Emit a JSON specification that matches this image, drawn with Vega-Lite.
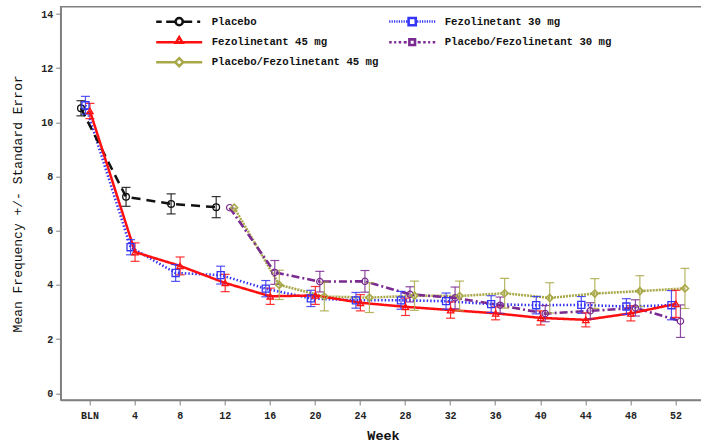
{
  "$schema": "https://vega.github.io/schema/vega-lite/v6.json",
  "width": 644.6,
  "height": 393.3,
  "autosize": {"type": "none"},
  "padding": {"left": 60.7, "top": 6.7, "right": 0, "bottom": 47},
  "background": "white",
  "config": {
    "font": "Liberation Mono",
    "view": {"stroke": "#808080", "strokeWidth": 1.5},
    "axis": {"domainColor": "#808080", "domainWidth": 1.5, "tickColor": "#808080", "tickSize": 5, "grid": false, "labelFont": "Liberation Mono", "labelFontWeight": "bold", "labelFontSize": 10, "labelColor": "#222", "titleFont": "Liberation Mono", "titleColor": "#111"}
  },
  "resolve": {"legend": {"color": "independent", "shape": "independent", "strokeWidth": "independent", "strokeDash": "independent"}},
  "data": {
    "values": [
      {"g": "Fezolinetant 30 mg", "w": "BLN", "m": 10.63, "se": 0.33},
      {"g": "Fezolinetant 30 mg", "w": "4", "m": 5.39, "se": 0.28},
      {"g": "Fezolinetant 30 mg", "w": "8", "m": 4.44, "se": 0.31},
      {"g": "Fezolinetant 30 mg", "w": "12", "m": 4.36, "se": 0.33},
      {"g": "Fezolinetant 30 mg", "w": "16", "m": 3.86, "se": 0.30},
      {"g": "Fezolinetant 30 mg", "w": "20", "m": 3.50, "se": 0.30},
      {"g": "Fezolinetant 30 mg", "w": "24", "m": 3.43, "se": 0.29},
      {"g": "Fezolinetant 30 mg", "w": "28", "m": 3.43, "se": 0.33},
      {"g": "Fezolinetant 30 mg", "w": "32", "m": 3.40, "se": 0.30},
      {"g": "Fezolinetant 30 mg", "w": "36", "m": 3.29, "se": 0.31},
      {"g": "Fezolinetant 30 mg", "w": "40", "m": 3.25, "se": 0.32},
      {"g": "Fezolinetant 30 mg", "w": "44", "m": 3.26, "se": 0.31},
      {"g": "Fezolinetant 30 mg", "w": "48", "m": 3.20, "se": 0.29},
      {"g": "Fezolinetant 30 mg", "w": "52", "m": 3.25, "se": 0.54},
      {"g": "Placebo/Fezolinetant 45 mg", "w": "12", "m": 6.85, "se": null},
      {"g": "Placebo/Fezolinetant 45 mg", "w": "16", "m": 4.00, "se": 0.54},
      {"g": "Placebo/Fezolinetant 45 mg", "w": "20", "m": 3.57, "se": 0.53},
      {"g": "Placebo/Fezolinetant 45 mg", "w": "24", "m": 3.53, "se": 0.55},
      {"g": "Placebo/Fezolinetant 45 mg", "w": "28", "m": 3.60, "se": 0.54},
      {"g": "Placebo/Fezolinetant 45 mg", "w": "32", "m": 3.59, "se": 0.55},
      {"g": "Placebo/Fezolinetant 45 mg", "w": "36", "m": 3.69, "se": 0.55},
      {"g": "Placebo/Fezolinetant 45 mg", "w": "40", "m": 3.52, "se": 0.56},
      {"g": "Placebo/Fezolinetant 45 mg", "w": "44", "m": 3.68, "se": 0.55},
      {"g": "Placebo/Fezolinetant 45 mg", "w": "48", "m": 3.77, "se": 0.57},
      {"g": "Placebo/Fezolinetant 45 mg", "w": "52", "m": 3.87, "se": 0.74},
      {"g": "Placebo/Fezolinetant 30 mg", "w": "12", "m": 6.85, "se": null},
      {"g": "Placebo/Fezolinetant 30 mg", "w": "16", "m": 4.46, "se": 0.44},
      {"g": "Placebo/Fezolinetant 30 mg", "w": "20", "m": 4.12, "se": 0.38},
      {"g": "Placebo/Fezolinetant 30 mg", "w": "24", "m": 4.13, "se": 0.40},
      {"g": "Placebo/Fezolinetant 30 mg", "w": "28", "m": 3.65, "se": 0.28},
      {"g": "Placebo/Fezolinetant 30 mg", "w": "32", "m": 3.52, "se": 0.40},
      {"g": "Placebo/Fezolinetant 30 mg", "w": "36", "m": 3.25, "se": 0.30},
      {"g": "Placebo/Fezolinetant 30 mg", "w": "40", "m": 2.94, "se": 0.30},
      {"g": "Placebo/Fezolinetant 30 mg", "w": "44", "m": 3.04, "se": 0.30},
      {"g": "Placebo/Fezolinetant 30 mg", "w": "48", "m": 3.15, "se": 0.30},
      {"g": "Placebo/Fezolinetant 30 mg", "w": "52", "m": 2.66, "se": 0.60},
      {"g": "Placebo", "w": "BLN", "m": 10.52, "se": 0.28},
      {"g": "Placebo", "w": "4", "m": 7.25, "se": 0.35},
      {"g": "Placebo", "w": "8", "m": 6.99, "se": 0.37},
      {"g": "Placebo", "w": "12", "m": 6.87, "se": 0.39},
      {"g": "Fezolinetant 45 mg", "w": "BLN", "m": 10.42, "se": 0.28},
      {"g": "Fezolinetant 45 mg", "w": "4", "m": 5.21, "se": 0.34},
      {"g": "Fezolinetant 45 mg", "w": "8", "m": 4.70, "se": 0.33},
      {"g": "Fezolinetant 45 mg", "w": "12", "m": 4.07, "se": 0.32},
      {"g": "Fezolinetant 45 mg", "w": "16", "m": 3.58, "se": 0.30},
      {"g": "Fezolinetant 45 mg", "w": "20", "m": 3.61, "se": 0.33},
      {"g": "Fezolinetant 45 mg", "w": "24", "m": 3.34, "se": 0.30},
      {"g": "Fezolinetant 45 mg", "w": "28", "m": 3.19, "se": 0.32},
      {"g": "Fezolinetant 45 mg", "w": "32", "m": 3.07, "se": 0.30},
      {"g": "Fezolinetant 45 mg", "w": "36", "m": 2.95, "se": 0.24},
      {"g": "Fezolinetant 45 mg", "w": "40", "m": 2.78, "se": 0.26},
      {"g": "Fezolinetant 45 mg", "w": "44", "m": 2.71, "se": 0.26},
      {"g": "Fezolinetant 45 mg", "w": "48", "m": 2.95, "se": 0.28},
      {"g": "Fezolinetant 45 mg", "w": "52", "m": 3.30, "se": 0.50}
    ]
  },
  "encoding": {
    "x": {
      "field": "w", "type": "ordinal",
      "sort": ["BLN", "4", "8", "12", "16", "20", "24", "28", "32", "36", "40", "44", "48", "52"],
      "scale": {"type": "band", "paddingInner": 0, "paddingOuter": 0.15},
      "axis": {"title": "Week", "labelAngle": 0, "bandPosition": 0.5, "labelPadding": 6, "titlePadding": 8, "titleFontSize": 13.5, "titleFontWeight": "bold"}
    },
    "xOffset": {
      "field": "g", "type": "nominal",
      "sort": ["Placebo", "Fezolinetant 30 mg", "Fezolinetant 45 mg", "Placebo/Fezolinetant 30 mg", "Placebo/Fezolinetant 45 mg"],
      "scale": {"paddingInner": 0, "paddingOuter": 0, "range": [11.25, 33.75]}
    },
    "y": {
      "field": "m", "type": "quantitative",
      "scale": {"domain": [-0.25, 14.27], "nice": false, "zero": false},
      "axis": {"title": "Mean Frequency +/- Standard Error", "values": [0, 2, 4, 6, 8, 10, 12, 14], "labelPadding": 3, "titlePadding": 16, "titleFontSize": 13, "titleFontWeight": "normal"}
    },
    "color": {
      "field": "g", "type": "nominal", "legend": null,
      "scale": {
        "domain": ["Placebo", "Fezolinetant 45 mg", "Placebo/Fezolinetant 45 mg", "Fezolinetant 30 mg", "Placebo/Fezolinetant 30 mg"],
        "range": ["#111111", "#ff1010", "#a8a848", "#3535f5", "#7a2a90"]
      }
    }
  },
  "layer": [
    {
      "mark": {"type": "line"},
      "encoding": {
        "strokeDash": {
          "field": "g", "type": "nominal", "legend": null,
          "scale": {
            "domain": ["Placebo", "Fezolinetant 45 mg", "Placebo/Fezolinetant 45 mg", "Fezolinetant 30 mg", "Placebo/Fezolinetant 30 mg"],
            "range": [[9, 6], [1, 0], [2, 1], [1.5, 2], [8, 3, 2, 3]]
          }
        },
        "strokeWidth": {
          "field": "g", "type": "nominal", "legend": null,
          "scale": {
            "domain": ["Placebo", "Fezolinetant 45 mg", "Placebo/Fezolinetant 45 mg", "Fezolinetant 30 mg", "Placebo/Fezolinetant 30 mg"],
            "range": [2.5, 2.6, 2.0, 1.6, 2.5]
          }
        }
      }
    },
    {
      "transform": [{"filter": "datum.se != null"}],
      "mark": {"type": "errorbar", "ticks": {"size": 9}, "thickness": 1.2, "opacity": 0.85},
      "encoding": {"yError": {"field": "se"}}
    },
    {
      "transform": [{"filter": "datum.g === 'Placebo'"}],
      "mark": {"type": "point", "shape": "circle", "filled": false, "strokeWidth": 1.3, "size": 45, "opacity": 1}
    },
    {
      "transform": [{"filter": "datum.g === 'Fezolinetant 30 mg'"}],
      "mark": {"type": "point", "shape": "square", "filled": false, "strokeWidth": 1.3, "size": 50, "opacity": 1}
    },
    {
      "transform": [{"filter": "datum.g === 'Fezolinetant 45 mg'"}],
      "mark": {"type": "point", "shape": "triangle-up", "filled": false, "strokeWidth": 1.3, "size": 40, "opacity": 1}
    },
    {
      "transform": [{"filter": "datum.g === 'Placebo/Fezolinetant 30 mg'"}],
      "mark": {"type": "point", "shape": "circle", "filled": false, "strokeWidth": 1.2, "size": 40, "opacity": 1}
    },
    {
      "transform": [{"filter": "datum.g === 'Placebo/Fezolinetant 45 mg'"}],
      "mark": {"type": "point", "shape": "diamond", "filled": false, "strokeWidth": 1.5, "size": 50, "opacity": 1}
    },
    {
      "mark": {"type": "point", "filled": false, "size": 0, "opacity": 1},
      "encoding": {
        "color": {
          "field": "g", "type": "nominal",
          "legend": {"title": null, "orient": "none", "legendX": 94, "legendY": 3, "columns": 2, "columnPadding": 5, "rowPadding": -8.5, "padding": 0, "labelFont": "Liberation Mono", "labelFontSize": 10.7, "labelFontWeight": "bold", "labelColor": "#111", "labelLimit": 400, "symbolSize": 400, "symbolOffset": 13, "labelOffset": 21, "symbolFillColor": "transparent", "symbolOpacity": 1}
        },
        "shape": {
          "field": "g", "type": "nominal",
          "legend": {"title": null, "orient": "none", "legendX": 94, "legendY": 3, "columns": 2, "columnPadding": 5, "rowPadding": -8.5, "padding": 0, "labelFont": "Liberation Mono", "labelFontSize": 10.7, "labelFontWeight": "bold", "labelColor": "#111", "labelLimit": 400, "symbolSize": 400, "symbolOffset": 13, "labelOffset": 21, "symbolFillColor": "transparent", "symbolOpacity": 1},
          "scale": {
            "domain": ["Placebo", "Fezolinetant 45 mg", "Placebo/Fezolinetant 45 mg", "Fezolinetant 30 mg", "Placebo/Fezolinetant 30 mg"],
            "range": [
              "M-2.3,0H-1.75M-1.3,0H-0.36M0.36,0H1.3M1.8,0H2.1M0.36,0A0.36,0.36,0,1,1,-0.36,0A0.36,0.36,0,1,1,0.36,0Z",
              "M-2.3,0H2.3M0,-0.5L0.33,0.05H-0.33Z",
              "M-2.3,0H-0.4M0.4,0H2.3M0,-0.4L0.4,0L0,0.4L-0.4,0Z",
              "M-2.3,0h0.12m0.12,0h0.12m0.12,0h0.12m0.12,0h0.12m0.12,0h0.12m0.12,0h0.12m0.12,0h0.12m0.12,0h0.12M-0.36,-0.36H0.36V0.36H-0.36ZM0.5,0h0.12m0.12,0h0.12m0.12,0h0.12m0.12,0h0.12m0.12,0h0.12m0.12,0h0.12m0.12,0h0.12m0.12,0h0.12",
              "M-2.3,0H-2.05M-1.8,0H-1.6M-1.35,0H-1.1M-0.85,0H-0.55M0.55,0H0.85M1.1,0H1.35M1.6,0H1.8M2.05,0H2.3M-0.28,-0.28H0.28V0.28H-0.28Z"
            ]
          }
        },
        "strokeWidth": {
          "field": "g", "type": "nominal",
          "legend": {"title": null, "orient": "none", "legendX": 94, "legendY": 3, "columns": 2, "columnPadding": 5, "rowPadding": -8.5, "padding": 0, "labelFont": "Liberation Mono", "labelFontSize": 10.7, "labelFontWeight": "bold", "labelColor": "#111", "labelLimit": 400, "symbolSize": 400, "symbolOffset": 13, "labelOffset": 21, "symbolFillColor": "transparent", "symbolOpacity": 1}
        }
      }
    }
  ]
}
